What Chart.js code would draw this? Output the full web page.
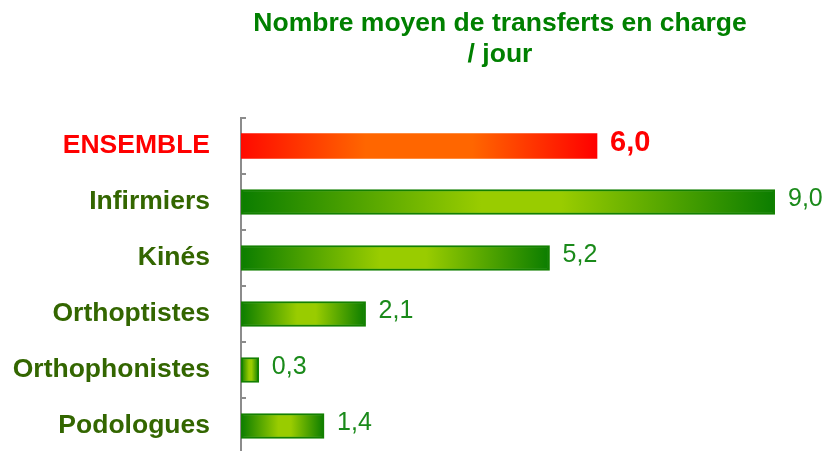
<!DOCTYPE html>
<html>
<head>
<meta charset="utf-8">
<script src="https://cdn.jsdelivr.net/npm/chart.js@4"></script>
<style>
  html, body { margin: 0; padding: 0; background: #fff; overflow: hidden; }
  #wrap { position: relative; width: 828px; height: 451px; overflow: hidden; }
  #title {
    position: absolute; left: 200px; top: 7px; width: 600px;
    text-align: center; font: bold 26.5px "Liberation Sans", Arial, sans-serif;
    line-height: 31px; color: #008000;
  }
  canvas { position: absolute; left: 0; top: 0; }
</style>
</head>
<body>
<div id="wrap">
  <canvas id="chart" width="828" height="456"></canvas>
  <div id="title">Nombre moyen de transferts en charge<br>/ jour</div>
</div>
<script>
// Nombre moyen de transferts en charge / jour
const categories = ["ENSEMBLE", "Infirmiers", "Kinés", "Orthoptistes", "Orthophonistes", "Podologues"];
const values = [6.0, 9.0, 5.2, 2.1, 0.3, 1.4];
const valueLabels = ["6,0", "9,0", "5,2", "2,1", "0,3", "1,4"];

const RED = "#ff0000";
const LABEL_GREEN = "#336600";
const VALUE_GREEN = "#1a8a1a";

// horizontal gradient across each bar, from its own start to its end
function barFill(ctx) {
  const chart = ctx.chart;
  const x = chart.scales.x;
  if (!x || !chart.chartArea) return ctx.dataIndex === 0 ? "#ff6600" : "#99cc00";
  const x0 = x.getPixelForValue(0);
  const x1 = x.getPixelForValue(values[ctx.dataIndex]);
  const g = chart.ctx.createLinearGradient(x0, 0, x1, 0);
  if (ctx.dataIndex === 0) {
    g.addColorStop(0, "#ff0a00");
    g.addColorStop(0.35, "#ff6600");
    g.addColorStop(0.65, "#ff6600");
    g.addColorStop(1, "#ff0000");
  } else {
    g.addColorStop(0, "#0b7d00");
    g.addColorStop(0.45, "#99cc00");
    g.addColorStop(0.6, "#99cc00");
    g.addColorStop(1, "#0b7d00");
  }
  return g;
}

const valueLabelPlugin = {
  id: "valueLabels",
  afterDatasetsDraw(chart) {
    const c = chart.ctx;
    const meta = chart.getDatasetMeta(0);
    c.save();
    c.textAlign = "left";
    c.textBaseline = "middle";
    meta.data.forEach((bar, i) => {
      if (i === 0) {
        c.font = 'bold 29px "Liberation Sans", Arial, sans-serif';
        c.fillStyle = RED;
      } else {
        c.font = '25px "Liberation Sans", Arial, sans-serif';
        c.fillStyle = VALUE_GREEN;
      }
      c.fillText(valueLabels[i], bar.x + 13, bar.y - 3);
    });
    c.restore();
  },
};

new Chart(document.getElementById("chart"), {
  type: "bar",
  data: {
    labels: categories,
    datasets: [
      {
        data: values,
        backgroundColor: barFill,
        borderColor: (ctx) => (ctx.dataIndex === 0 ? "rgba(0,0,0,0)" : "#138000"),
        borderWidth: (ctx) => (ctx.dataIndex === 0 ? 0 : 2),
        borderSkipped: false,
        barThickness: 25,
      },
    ],
  },
  plugins: [valueLabelPlugin],
  options: {
    indexAxis: "y",
    responsive: false,
    animation: false,
    layout: { padding: { top: 118, right: 53, bottom: 2, left: 0 } },
    plugins: {
      legend: { display: false },
      title: { display: false },
      tooltip: { enabled: false },
    },
    scales: {
      x: { display: false, min: 0, max: 9 },
      y: {
        afterFit: (scale) => {
          scale.width = 241;
          scale.paddingTop = 0;
          scale.paddingBottom = 0;
        },
        border: { display: true, color: "#8c8c8c", width: 2 },
        grid: {
          drawOnChartArea: false,
          color: "#8c8c8c",
          lineWidth: 2,
          tickLength: -5,
        },
        ticks: {
          padding: 36,
          color: (ctx) => (ctx.index === 0 ? RED : LABEL_GREEN),
          font: { family: '"Liberation Sans", Arial, sans-serif', size: 26.5, weight: "bold" },
        },
      },
    },
  },
});
</script>
</body>
</html>
